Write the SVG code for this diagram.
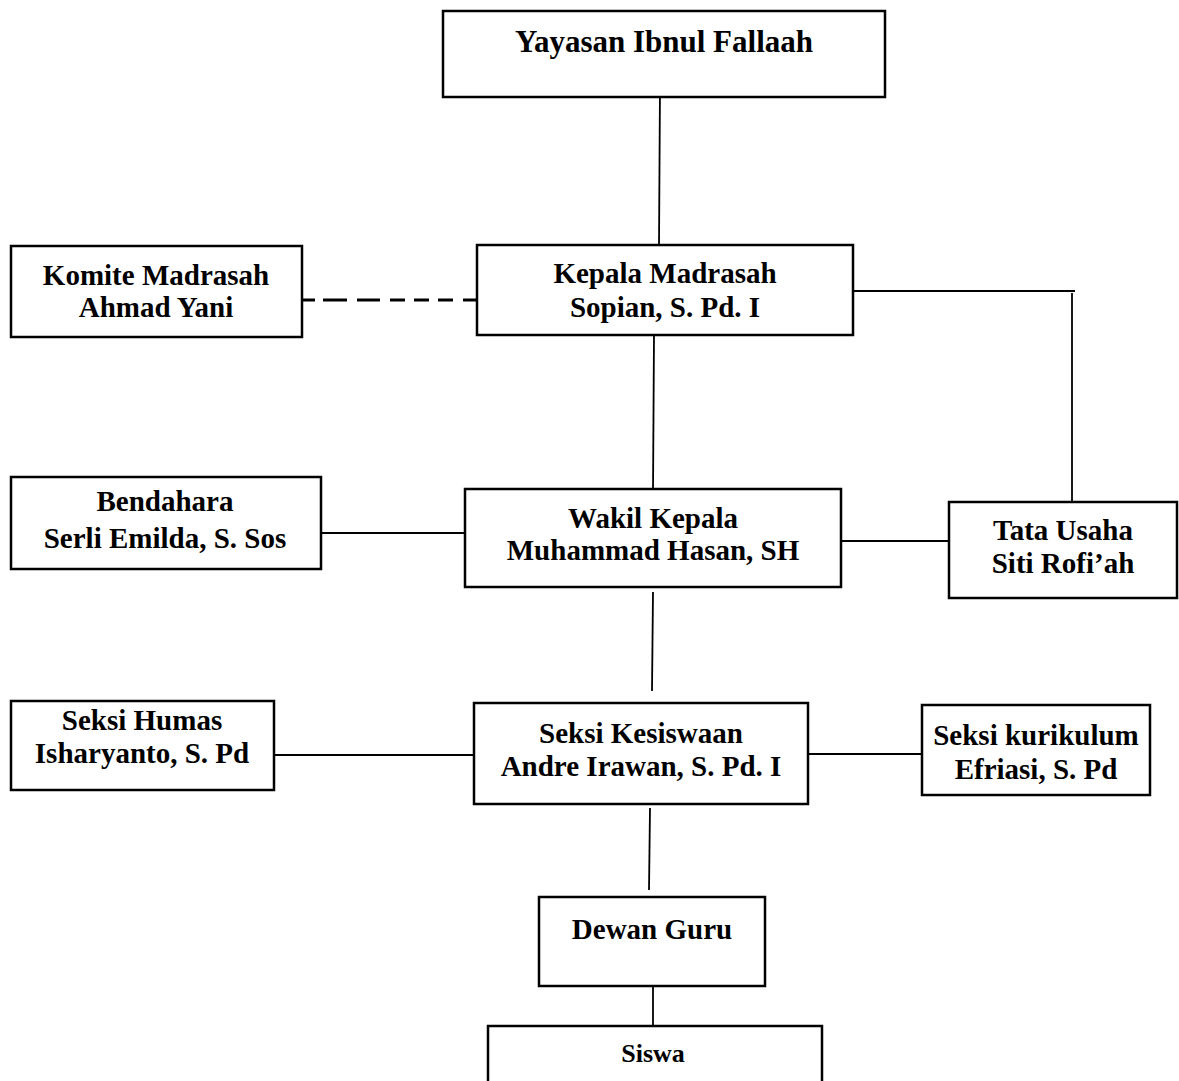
<svg xmlns="http://www.w3.org/2000/svg" width="1179" height="1081" viewBox="0 0 1179 1081">
<style>
.box{fill:#fff;stroke:#000;stroke-width:2.5}
.t{font-family:"Liberation Serif","Times New Roman",serif;font-weight:bold;font-size:29px;text-anchor:middle;fill:#000}
.ln{stroke:#000;stroke-width:1.8;fill:none}
</style>
<rect width="1179" height="1081" fill="#fff"/>
<g id="connectors">
<line class="ln" x1="660" y1="86" x2="659" y2="245"/>
<path d="M302 300H315M323 300H347M357 300H380M390 300H405M414 300H429M438 300H453M463 300H477" stroke="#000" stroke-width="3" fill="none"/>
<line class="ln" x1="853" y1="291" x2="1075" y2="291"/>
<line class="ln" x1="1072" y1="293" x2="1072" y2="505"/>
<line class="ln" x1="654" y1="335" x2="653" y2="492"/>
<line class="ln" x1="321" y1="533" x2="470" y2="533"/>
<line class="ln" x1="841" y1="541" x2="948" y2="541"/>
<line class="ln" x1="653" y1="592" x2="652" y2="691"/>
<line class="ln" x1="274" y1="755" x2="476" y2="755"/>
<line class="ln" x1="808" y1="754" x2="925" y2="754"/>
<line class="ln" x1="650" y1="808" x2="649" y2="890"/>
<line class="ln" x1="653" y1="986" x2="653" y2="1029"/>
</g>
<g id="yayasan"><rect class="box" x="443" y="11" width="442" height="86"/><text class="t" x="664" y="52" style="font-size:31px">Yayasan Ibnul Fallaah</text></g>
<g id="komite"><rect class="box" x="11" y="246" width="291" height="91"/><text class="t" x="156" y="285">Komite Madrasah</text><text class="t" x="156" y="317">Ahmad Yani</text></g>
<g id="kepala"><rect class="box" x="477" y="245" width="376" height="90"/><text class="t" x="665" y="283">Kepala Madrasah</text><text class="t" x="665" y="317">Sopian, S. Pd. I</text></g>
<g id="bendahara"><rect class="box" x="11" y="477" width="310" height="92"/><text class="t" x="165" y="511">Bendahara</text><text class="t" x="165" y="548">Serli Emilda, S. Sos</text></g>
<g id="wakil"><rect class="box" x="465" y="489" width="376" height="98"/><text class="t" x="653" y="528">Wakil Kepala</text><text class="t" x="653" y="560">Muhammad Hasan, SH</text></g>
<g id="tatausaha"><rect class="box" x="949" y="502" width="228" height="96"/><text class="t" x="1063" y="540">Tata Usaha</text><text class="t" x="1063" y="573">Siti Rofi’ah</text></g>
<g id="humas"><rect class="box" x="11" y="701" width="263" height="89"/><text class="t" x="142" y="730">Seksi Humas</text><text class="t" x="142" y="763">Isharyanto, S. Pd</text></g>
<g id="kesiswaan"><rect class="box" x="474" y="703" width="334" height="101"/><text class="t" x="641" y="743">Seksi Kesiswaan</text><text class="t" x="641" y="776">Andre Irawan, S. Pd. I</text></g>
<g id="kurikulum"><rect class="box" x="922" y="705" width="228" height="90"/><text class="t" x="1036" y="745">Seksi kurikulum</text><text class="t" x="1036" y="779">Efriasi, S. Pd</text></g>
<g id="dewanguru"><rect class="box" x="539" y="897" width="226" height="89"/><text class="t" x="652" y="939">Dewan Guru</text></g>
<g id="siswa"><path class="box" d="M488 1081V1026H822V1081"/><text class="t" x="653" y="1062" style="font-size:26px">Siswa</text></g>
</svg>
